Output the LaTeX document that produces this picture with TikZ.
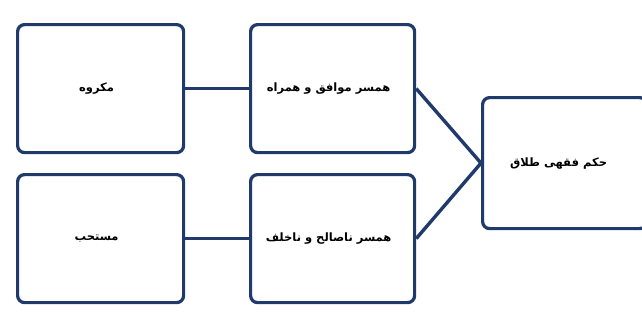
\documentclass[tikz,border=0pt]{standalone}
\usepackage{fontspec}
\newfontfamily\arabicfont[Script=Arabic]{DejaVu Sans}
\TeXXeTstate=1
\begin{document}
\begin{tikzpicture}[x=1pt,y=-1pt,
  box/.style={draw=boxblue, line width=3.2pt, rounded corners=7pt, fill=white, inner sep=0pt, anchor=north west},
  conn/.style={draw=boxblue, line width=3.4pt},
  lbl/.style={font=\arabicfont\bfseries\fontsize{11.5}{13}\selectfont, text=black}]
\definecolor{boxblue}{HTML}{1F3A6B}
\useasboundingbox (0,0) rectangle (642,332);
\clip (0,0) rectangle (642,332);
\node[box, minimum width=166pt, minimum height=128pt] (ltop) at (16,23) {};
\node[box, minimum width=166pt, minimum height=128pt] (lbot) at (16,173) {};
\node[box, minimum width=164pt, minimum height=128pt] (mtop) at (249,23) {};
\node[box, minimum width=164pt, minimum height=128pt] (mbot) at (249,173) {};
\node[box, minimum width=164pt, minimum height=131pt] (judge) at (481,96) {};
\node[lbl] at ([xshift=-4pt]ltop.center) {\beginR مکروه\endR};
\node[lbl] at ([xshift=-4pt]lbot.center) {\beginR مستحب\endR};
\node[lbl] at ([xshift=-4pt]mtop.center) {\beginR همسر موافق و همراه\endR};
\node[lbl] at ([xshift=-4pt]mbot.center) {\beginR همسر ناصالح و ناخلف\endR};
\node[lbl] at ([xshift=-6pt]judge.center) {\beginR حکم فقهی طلاق\endR};
\draw[conn] (ltop.east) -- (mtop.west);
\draw[conn] (lbot.east) -- (mbot.west);
\draw[conn] (mtop.east) -- (judge.west);
\draw[conn] (mbot.east) -- (judge.west);
\end{tikzpicture}
\end{document}
